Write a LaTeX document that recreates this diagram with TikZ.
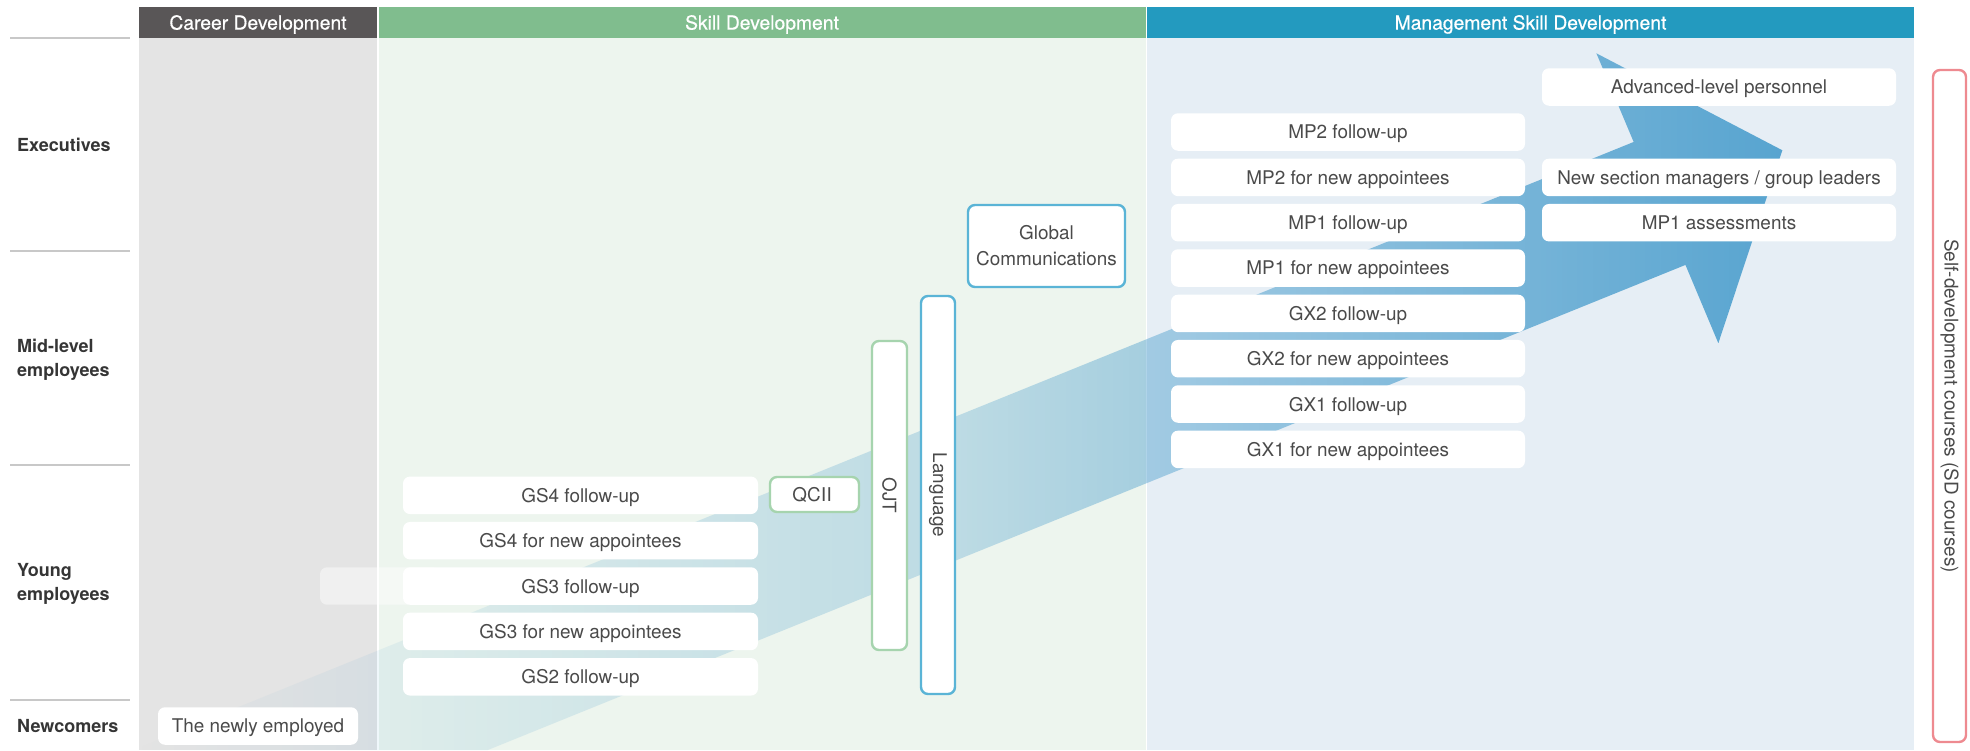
\documentclass[tikz,border=0pt]{standalone}
\usepackage{fontspec}
\setmainfont{TeX Gyre Heros}
\newfontfamily\hdrfont{TeX Gyre Heros}[FakeBold=0.6]
\newfontfamily\cjk{Noto Sans CJK JP}
\usetikzlibrary{fadings}

\definecolor{hdrgray}{HTML}{595657}
\definecolor{hdrgreen}{HTML}{80BD8E}
\definecolor{hdrblue}{HTML}{239ABF}
\definecolor{colgray}{HTML}{E4E4E4}
\definecolor{colgreen}{HTML}{EDF5EE}
\definecolor{colblue}{HTML}{E6EEF5}
\definecolor{bandblue}{HTML}{4B9ECD}
\definecolor{txtgray}{HTML}{4A4A4A}
\definecolor{lblgray}{HTML}{353535}
\definecolor{rulegray}{HTML}{C8C8C8}
\definecolor{bordgreen}{HTML}{A6D4AE}
\definecolor{bordblue}{HTML}{5AB4D6}
\definecolor{bordred}{HTML}{EE8A90}

\tikzfading[name=bandfade, left color=transparent!100, right color=transparent!8, middle color=transparent!70]

\tikzset{
  hdr/.style={inner sep=0pt, text=white, text depth=0pt,
              font=\hdrfont\fontsize{19.3}{22}\selectfont},
  lvl/.style={anchor=west, align=left, inner sep=0pt, text=lblgray,
              font=\fontsize{18}{23.5}\selectfont\bfseries},
  wbox/.style={fill=white, rounded corners=7pt, inner sep=0pt,
               minimum height=37.5pt, text=txtgray, text depth=0pt,
               font=\fontsize{18.9}{26}\selectfont},
  obox/.style={wbox, draw, line width=2.4pt},
  vtext/.style={rotate=-90, text=txtgray, font=\fontsize{18.9}{22}\selectfont},
}

\begin{document}
\begin{tikzpicture}[x=1pt, y=-1pt]
\useasboundingbox (0,0) rectangle (1970,750);

% column backgrounds
\fill[colgray]  (139,37.7) rectangle (377,750);
\fill[colgreen] (378.5,37.7) rectangle (1145.5,750);
\fill[colblue]  (1147,37.7) rectangle (1914,750);

% column headers
\node[hdr, fill=hdrgray,  minimum width=238pt, minimum height=30.7pt] (hcar) at (258,22.35) {Career Development};
\node[hdr, fill=hdrgreen, minimum width=767pt, minimum height=30.7pt] (hski) at (762,22.35) {Skill Development};
\node[hdr, fill=hdrblue,  minimum width=767pt, minimum height=30.7pt] (hman) at (1530.5,22.35) {Management Skill Development};

% level rules and labels
\foreach \yy in {37.7,251,465,700}
  \draw[rulegray, line width=1.6pt] (10,\yy) -- (130,\yy);
\node[lvl] (lexe) at (17,145) {Executives};
\node[lvl] (lmid) at (17,360) {Mid-level\\employees};
\node[lvl] (lyou) at (17,584) {Young\\employees};
\node[lvl] (lnew) at (17,726) {Newcomers};

% growth arrow
\fill[bandblue, path fading=bandfade]
  (139,750) -- (139,747.3) -- (1634.3,141.7) -- (1597,53) -- (1783,150)
  -- (1719,343) -- (1686.1,264.7) -- (488,750) -- cycle;

% faint extension behind GS3 follow-up
\fill[white, fill opacity=0.45, rounded corners=7pt] (320,567.3) rectangle (440,604.7);

% career development
\node[wbox, minimum width=200pt] (newly) at (258,726) {The newly employed};

% skill development
\node[wbox, minimum width=355pt] (gs4f) at (580.5,495.3) {GS4 follow-up};
\node[wbox, minimum width=355pt] (gs4n) at (580.5,540.7) {GS4 for new appointees};
\node[wbox, minimum width=355pt] (gs3f) at (580.5,586.0) {GS3 follow-up};
\node[wbox, minimum width=355pt] (gs3n) at (580.5,631.4) {GS3 for new appointees};
\node[wbox, minimum width=355pt] (gs2f) at (580.5,676.8) {GS2 follow-up};

\node[obox, draw=bordgreen, minimum width=89pt, minimum height=35pt] (qc) at (814.5,494.5) {QC\kern-3pt{\cjk Ⅱ}};
\node[obox, draw=bordgreen, minimum width=35pt, minimum height=309pt] (ojt) at (889.5,495.5) {};
\node[vtext] (ojtt) at (ojt.center) {OJT};
\node[obox, draw=bordblue, minimum width=34pt, minimum height=398pt] (lang) at (938,495) {};
\node[vtext] (langt) at (lang.center) {Language};
\node[obox, draw=bordblue, minimum width=157pt, minimum height=82pt, align=center, text depth=] (glob) at (1046.5,246) {Global\\Communications};

% management skill development
\node[wbox, minimum width=354pt] (mp2f) at (1348,132.0) {MP2 follow-up};
\node[wbox, minimum width=354pt] (mp2n) at (1348,177.4) {MP2 for new appointees};
\node[wbox, minimum width=354pt] (mp1f) at (1348,222.7) {MP1 follow-up};
\node[wbox, minimum width=354pt] (mp1n) at (1348,268.0) {MP1 for new appointees};
\node[wbox, minimum width=354pt] (gx2f) at (1348,313.4) {GX2 follow-up};
\node[wbox, minimum width=354pt] (gx2n) at (1348,358.7) {GX2 for new appointees};
\node[wbox, minimum width=354pt] (gx1f) at (1348,404.0) {GX1 follow-up};
\node[wbox, minimum width=354pt] (gx1n) at (1348,449.4) {GX1 for new appointees};

\node[wbox, minimum width=354pt] (adv)  at (1719,87.0)  {Advanced-level personnel};
\node[wbox, minimum width=354pt] (nsec) at (1719,177.4) {New section managers / group leaders};
\node[wbox, minimum width=354pt] (mp1a) at (1719,222.7) {MP1 assessments};

% self-development courses
\node[obox, draw=bordred, minimum width=33pt, minimum height=672pt] (sd) at (1949.5,406) {};
\node[vtext] (sdt) at (sd.center) {Self-development courses (SD courses)};
\end{tikzpicture}
\end{document}
